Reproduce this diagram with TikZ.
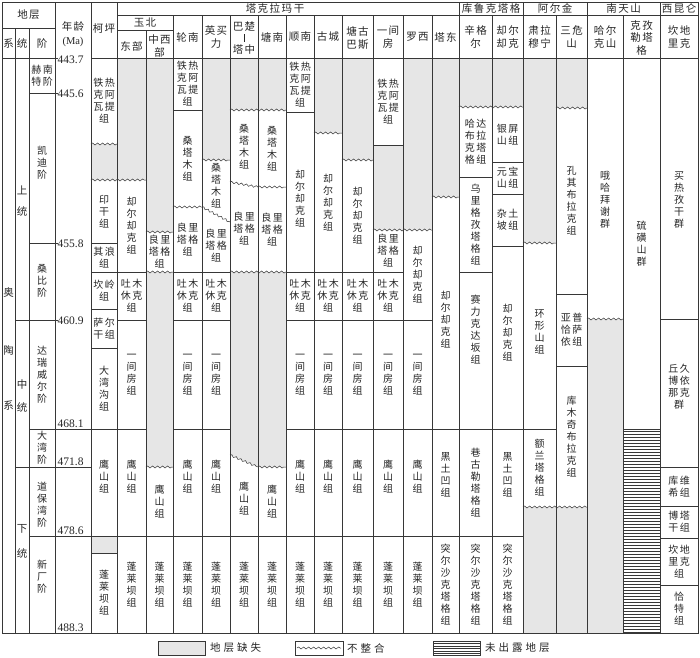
\documentclass[tikz,border=0pt]{standalone}
\usepackage{fontspec}
\setmainfont{Liberation Serif}
\newfontfamily\cjk{Noto Sans CJK SC}
\usetikzlibrary{decorations.pathmorphing}
\definecolor{gapc}{RGB}{230,230,230}
\definecolor{linec}{RGB}{55,55,55}
\newcommand\gq{\hspace{1.5pt}}
\newcommand\cellt[6]{\node[tx] (#1) at ({(#2+#3)/2},{(#4+#5)/2}) {#6};}
\newcommand\hln[3]{\draw[ln] (#1,#3) -- (#2,#3);}
\newcommand\wln[3]{\draw[wv] (#1,#3) -- (#2,#3);}
\newcommand\gpf[4]{\fill[gapc] (#1,#3) rectangle (#2,#4);}
\newcommand\TRK{铁\gq 热\\克\gq 阿\\瓦\gq 提\\组}
\newcommand\TMX{吐\gq 木\\休\gq 克\\组}
\newcommand\LLT{良\gq 里\\塔\gq 格\\组}
\newcommand\YJF{一\\间\\房\\组}
\newcommand\YSZ{鹰\\山\\组}
\newcommand\PLB{蓬\\莱\\坝\\组}
\newcommand\QEQ{却\\尔\\却\\克\\组}
\newcommand\STM{桑\\塔\\木\\组}
\newcommand\TES{突\\尔\\沙\\克\\塔\\格\\组}
\newcommand\HTA{黑\\土\\凹\\组}
\begin{document}
\begin{tikzpicture}[x=1pt,y=-1pt,
  ln/.style={draw=linec,line width=0.6pt},
  wv/.style={draw=linec,line width=0.5pt,decorate,decoration={snake,amplitude=1pt,segment length=5pt}},
  tx/.style={font=\cjk\fontsize{10}{12}\selectfont,align=center,inner sep=0pt,text=black!85},
  hd/.style={font=\cjk\fontsize{10.5}{12.5}\selectfont,align=center,inner sep=0pt,text=black!85},
  num/.style={font=\fontsize{11.5}{12}\selectfont,inner sep=0pt,text=black!85}]
\useasboundingbox (0,0) rectangle (700,657);
\fill[white] (0,0) rectangle (700,657);
% ---------- gaps ----------
\gpf{91}{117}{144}{180}\gpf{91}{117}{536}{553}
\gpf{117}{146}{58}{180}
\gpf{146}{173}{58}{232}\gpf{146}{173}{272}{467}
\gpf{202}{230}{58}{160}
\gpf{230}{258}{58}{110}
\fill[gapc] (230,272) -- (258,272) -- (258,467) -- (230,455) -- cycle;
\gpf{258}{286}{58}{110}\gpf{258}{286}{272}{467}
\gpf{314}{342}{58}{133}
\gpf{342}{373}{58}{160}
\gpf{373}{403}{145}{230}
\gpf{403}{432}{58}{230}
\gpf{432}{459}{58}{197}
\gpf{459}{492}{58}{107}
\gpf{492}{523}{58}{107}
\gpf{523}{556}{58}{243}\gpf{523}{556}{507}{633}
\gpf{556}{587}{58}{108}\gpf{556}{587}{507}{633}
\gpf{587}{623}{319}{633}
\foreach \yy in {431,434,...,632} \draw[linec,line width=0.4pt] (623,\yy) -- (660,\yy);
% ---------- frame & vertical lines ----------
\draw[ln,line width=0.9pt] (2,2) rectangle (698,633);
\foreach \xx in {15,29} \draw[ln] (\xx,28) -- (\xx,633);
\foreach \xx in {55,91,117,459,523,587,660} \draw[ln] (\xx,2) -- (\xx,633);
\draw[ln] (146,30) -- (146,633);
\foreach \xx in {173,202,230,258,286,314,342,373,403,432,492,556,623} \draw[ln] (\xx,15) -- (\xx,633);
% header horizontals
\hln{2}{55}{28}
\hln{117}{698}{15}
\hln{117}{173}{30}
\hln{2}{55}{58}\hln{91}{698}{58}
% ---------- header text ----------
\node[hd] (hdc) at (28.5,15) {地\gq 层};
\node[hd] (hxi) at (8.5,43) {系};
\node[hd] (htong) at (22,43) {统};
\node[hd] (hjie) at (42,43) {阶};
\node[hd] (hage) at (73,34) {年\gq 龄\\[1pt]{\rmfamily (Ma)}};
\node[hd] (hkp) at (104,28) {柯\gq 坪};
\node[hd] (htk) at (275,8.5) {塔\gq 克\gq 拉\gq 玛\gq 干};
\node[hd] (hkl) at (491,8.5) {库\gq 鲁\gq 克\gq 塔\gq 格};
\node[hd] (haj) at (555,8.5) {阿\gq 尔\gq 金};
\node[hd] (hnt) at (623.5,8.5) {南\gq 天\gq 山};
\node[hd] (hxk) at (679,8.5) {西\gq 昆\gq 仑};
\node[hd] (hyb) at (145,22.5) {玉\gq 北};
\node[hd] (hdb) at (131.5,46) {东\gq 部};
\node[hd] (hzx) at (159.5,46) {中\gq 西\\部};
\node[hd] (hln) at (187.5,37) {轮\gq 南};
\node[hd] (hym) at (216,37) {英\gq 买\\力};
\node[hd] (hbc) at (244,38) {巴\gq 楚\\[-1pt]\rule{0.5pt}{8pt}\\[-1pt]塔\gq 中};
\node[hd] (htn) at (272,37) {塘\gq 南};
\node[hd] (hsn) at (300,37) {顺\gq 南};
\node[hd] (hgc) at (328,37) {古\gq 城};
\node[hd] (htg) at (357.5,38) {塘\gq 古\\巴\gq 斯};
\node[hd] (hyj) at (388,37) {一\gq 间\\房};
\node[hd] (hlx) at (417.5,37) {罗\gq 西};
\node[hd] (htd) at (445.5,37) {塔\gq 东};
\node[hd] (hxg) at (475.5,37) {辛\gq 格\\尔};
\node[hd] (hqe) at (507.5,37) {却\gq 尔\\却\gq 克};
\node[hd] (hsl) at (539.5,37) {肃\gq 拉\\穆\gq 宁};
\node[hd] (hsw) at (571.5,37) {三\gq 危\\山};
\node[hd] (hhe) at (605,37) {哈\gq 尔\\克\gq 山};
\node[hd] (hkz) at (641.5,38) {克\gq 孜\\勒\gq 塔\\格};
\node[hd] (hkd) at (679,37) {坎\gq 地\\里\gq 克};
% ---------- chronostratigraphy ----------
\hln{29}{58}{93}\hln{29}{58}{243}\hln{15}{58}{320}
\hln{29}{91}{429}\hln{15}{91}{467}\hln{29}{91}{536}
\draw[ln] (55,58) -- (58,58);
\node[hd] (s1) at (8.5,292) {奥};
\node[hd] (s2) at (8.5,350) {陶};
\node[hd] (s3) at (8.5,405) {系};
\node[hd] (t1) at (22,190) {上};
\node[hd] (t2) at (22,211) {统};
\node[hd] (t3) at (22,384) {中};
\node[hd] (t4) at (22,407) {统};
\node[hd] (t5) at (22,529) {下};
\node[hd] (t6) at (22,553) {统};
\node[tx] (j1) at (42,76) {赫\gq 南\\特\gq 阶};
\node[tx] (j2) at (42,163) {凯\\迪\\阶};
\node[tx] (j3) at (42,281) {桑\\比\\阶};
\node[tx] (j4) at (42,375) {达\\瑞\\威\\尔\\阶};
\node[tx] (j5) at (42,448) {大\\湾\\阶};
\node[tx] (j6) at (42,505) {道\\保\\湾\\阶};
\node[tx] (j7) at (42,577) {新\\厂\\阶};
\node[num,anchor=west] (a1) at (57.5,60) {443.7};
\node[num,anchor=west] (a2) at (57.5,93.5) {445.6};
\node[num,anchor=west] (a3) at (57.5,243.5) {455.8};
\node[num,anchor=west] (a4) at (57.5,320.5) {460.9};
\node[num,anchor=south west] (a5) at (57.5,428) {468.1};
\node[num,anchor=south west] (a6) at (57.5,466) {471.8};
\node[num,anchor=south west] (a7) at (57.5,535) {478.6};
\node[num,anchor=south west] (a8) at (57.5,632) {488.3};
% ---------- Keping ----------
\wln{91}{117}{144}\wln{91}{146}{180}
\hln{91}{117}{243}\hln{91}{117}{272}\hln{91}{117}{309}\hln{91}{117}{348}
\hln{91}{117}{429}\hln{91}{117}{536}\hln{91}{117}{553}
\cellt{kp1}{91}{117}{58}{144}{\TRK}
\cellt{kp2}{91}{117}{180}{243}{印\\干\\组}
\cellt{kp3}{91}{117}{243}{272}{其\gq 浪\\组}
\cellt{kp4}{91}{117}{272}{309}{坎\gq 岭\\组}
\cellt{kp5}{91}{117}{309}{348}{萨\gq 尔\\干\gq 组}
\cellt{kp6}{91}{117}{348}{429}{大\\湾\\沟\\组}
\cellt{kp7}{91}{117}{429}{525}{\YSZ}
\cellt{kp8}{91}{117}{553}{633}{\PLB}
% ---------- Yubei east ----------
\hln{117}{146}{272}\hln{117}{146}{320}\hln{117}{146}{429}\hln{117}{146}{536}
\cellt{db1}{117}{146}{180}{272}{\QEQ}
\cellt{db2}{117}{146}{272}{320}{\TMX}
\cellt{db3}{117}{146}{320}{429}{\YJF}
\cellt{db4}{117}{146}{429}{525}{\YSZ}
\cellt{db5}{117}{146}{536}{633}{\PLB}
% ---------- Yubei middle-west ----------
\wln{146}{173}{232}\wln{146}{173}{272}\wln{146}{173}{467}\hln{146}{173}{536}
\cellt{zx1}{146}{173}{232}{272}{\LLT}
\cellt{zx2}{146}{173}{467}{536}{\YSZ}
\cellt{zx3}{146}{173}{536}{633}{\PLB}
% ---------- Lunnan ----------
\hln{173}{202}{110}\wln{173}{202}{207}\hln{173}{202}{272}\hln{173}{202}{320}\hln{173}{202}{429}\hln{173}{202}{536}
\cellt{ln1}{173}{202}{58}{110}{\TRK}
\cellt{ln2}{173}{202}{110}{207}{\STM}
\cellt{ln3}{173}{202}{207}{272}{\LLT}
\cellt{ln4}{173}{202}{272}{320}{\TMX}
\cellt{ln5}{173}{202}{320}{429}{\YJF}
\cellt{ln6}{173}{202}{429}{525}{\YSZ}
\cellt{ln7}{173}{202}{536}{633}{\PLB}
% ---------- Yingmaili ----------
\wln{202}{230}{160}\draw[wv] (202,207) -- (230,222);
\hln{202}{230}{272}\hln{202}{230}{320}\hln{202}{230}{429}\hln{202}{230}{536}
\cellt{ym1}{202}{230}{160}{212}{\STM}
\cellt{ym2}{202}{230}{220}{272}{\LLT}
\cellt{ym3}{202}{230}{272}{320}{\TMX}
\cellt{ym4}{202}{230}{320}{429}{\YJF}
\cellt{ym5}{202}{230}{429}{525}{\YSZ}
\cellt{ym6}{202}{230}{536}{633}{\PLB}
% ---------- Bachu-Tazhong ----------
\wln{230}{286}{110}\draw[wv] (230,182) -- (258,187);\wln{258}{286}{187}
\wln{230}{286}{272}\draw[wv] (230,455) -- (258,467);\wln{258}{286}{467}
\hln{230}{286}{536}
\cellt{bc1}{230}{258}{110}{184}{\STM}
\cellt{bc2}{230}{258}{185}{272}{\LLT}
\cellt{bc3}{230}{258}{461}{536}{\YSZ}
\cellt{bc4}{230}{258}{536}{633}{\PLB}
\cellt{tn1}{258}{286}{110}{187}{\STM}
\cellt{tn2}{258}{286}{187}{272}{\LLT}
\cellt{tn3}{258}{286}{467}{536}{\YSZ}
\cellt{tn4}{258}{286}{536}{633}{\PLB}
% ---------- Shunnan ----------
\hln{286}{314}{112}\hln{286}{373}{272}\hln{286}{373}{320}\hln{286}{459}{429}\hln{286}{459}{536}
\cellt{sn1}{286}{314}{58}{112}{\TRK}
\cellt{sn2}{286}{314}{125}{272}{\QEQ}
\cellt{sn3}{286}{314}{272}{320}{\TMX}
\cellt{sn4}{286}{314}{320}{429}{\YJF}
\cellt{sn5}{286}{314}{429}{525}{\YSZ}
\cellt{sn6}{286}{314}{536}{633}{\PLB}
% ---------- Gucheng ----------
\wln{314}{342}{133}
\cellt{gc1}{314}{342}{133}{272}{\QEQ}
\cellt{gc2}{314}{342}{272}{320}{\TMX}
\cellt{gc3}{314}{342}{320}{429}{\YJF}
\cellt{gc4}{314}{342}{429}{525}{\YSZ}
\cellt{gc5}{314}{342}{536}{633}{\PLB}
% ---------- Tanggubasi ----------
\wln{342}{373}{160}
\cellt{tg1}{342}{373}{160}{272}{\QEQ}
\cellt{tg2}{342}{373}{272}{320}{\TMX}
\cellt{tg3}{342}{373}{320}{429}{\YJF}
\cellt{tg4}{342}{373}{429}{525}{\YSZ}
\cellt{tg5}{342}{373}{536}{633}{\PLB}
% ---------- Yijianfang ----------
\hln{373}{403}{145}\wln{373}{432}{230}\hln{373}{403}{272}\hln{373}{432}{320}
\cellt{yj1}{373}{403}{58}{145}{\TRK}
\cellt{yj2}{373}{403}{230}{272}{\LLT}
\cellt{yj3}{373}{403}{272}{320}{\TMX}
\cellt{yj4}{373}{403}{320}{429}{\YJF}
\cellt{yj5}{373}{403}{429}{525}{\YSZ}
\cellt{yj6}{373}{403}{536}{633}{\PLB}
% ---------- Luoxi ----------
\cellt{lx1}{403}{432}{230}{320}{\QEQ}
\cellt{lx2}{403}{432}{320}{429}{\YJF}
\cellt{lx3}{403}{432}{429}{525}{\YSZ}
\cellt{lx4}{403}{432}{536}{633}{\PLB}
% ---------- Tadong ----------
\wln{432}{459}{197}
\cellt{td1}{432}{459}{210}{429}{\QEQ}
\cellt{td2}{432}{459}{429}{520}{\HTA}
\cellt{td3}{432}{459}{536}{633}{\TES}
% ---------- Xingeer ----------
\wln{459}{523}{107}\hln{459}{492}{177}\hln{459}{492}{272}\hln{459}{523}{429}\hln{459}{523}{536}
\cellt{xg1}{459}{492}{107}{177}{哈\gq 达\\布\gq 拉\\克\gq 塔\\格\gq 组}
\cellt{xg2}{459}{492}{177}{272}{乌\\里\\格\\孜\\塔\\格\\组}
\cellt{xg3}{459}{492}{272}{388}{赛\\力\\克\\达\\坂\\组}
\cellt{xg4}{459}{492}{429}{536}{巷\\古\\勒\\塔\\格\\组}
\cellt{xg5}{459}{492}{536}{633}{\TES}
% ---------- Queerqueke ----------
\hln{492}{523}{162}\hln{492}{523}{194}\hln{492}{523}{246}
\cellt{qk1}{492}{523}{107}{162}{银\gq 屏\\山\gq 组}
\cellt{qk2}{492}{523}{162}{194}{元\gq 宝\\山\gq 组}
\cellt{qk3}{492}{523}{194}{246}{杂\gq 土\\坡\gq 组}
\cellt{qk4}{492}{523}{246}{420}{\QEQ}
\cellt{qk5}{492}{523}{429}{520}{\HTA}
\cellt{qk6}{492}{523}{536}{633}{\TES}
% ---------- Sulamuning ----------
\wln{523}{556}{243}\hln{523}{556}{429}\wln{523}{587}{507}
\cellt{sl1}{523}{556}{243}{420}{环\\形\\山\\组}
\cellt{sl2}{523}{556}{429}{507}{额\\兰\\塔\\格\\组}
% ---------- Sanweishan ----------
\wln{556}{587}{108}\hln{556}{587}{294}\hln{556}{587}{366}
\cellt{sw1}{556}{587}{108}{294}{孔\\其\\布\\拉\\克\\组}
\cellt{sw2}{556}{587}{294}{366}{亚\gq 普\\恰\gq 萨\\依\gq 组}
\cellt{sw3}{556}{587}{366}{507}{库\\木\\奇\\布\\拉\\克\\组}
% ---------- Haerkeshan ----------
\wln{587}{623}{319}
\cellt{he1}{587}{623}{80}{319}{哦\\哈\\拜\\谢\\群}
% ---------- Kezilitage ----------
\hln{623}{660}{429}
\cellt{kz1}{623}{660}{58}{429}{硫\\磺\\山\\群}
% ---------- Kandilike ----------
\hln{660}{698}{319}\hln{660}{698}{467}\hln{660}{698}{506}\hln{660}{698}{538}\hln{660}{698}{585}
\cellt{kd1}{660}{698}{80}{319}{买\\热\\孜\\干\\群}
\cellt{kd2}{660}{698}{319}{455}{丘\gq 久\\博\gq 依\\那\gq 克\\群}
\cellt{kd3}{660}{698}{467}{506}{库\gq 维\\希\gq 组}
\cellt{kd4}{660}{698}{506}{538}{博\gq 塔\\干\gq 组}
\cellt{kd5}{660}{698}{538}{585}{坎\gq 地\\里\gq 克\\组}
\cellt{kd6}{660}{698}{585}{633}{恰\\特\\组}
% ---------- legend ----------
\draw[ln,fill=gapc] (158,641) rectangle (205,655);
\node[hd,anchor=west] (lg1) at (210,648) {地\hspace{3pt}层\hspace{3pt}缺\hspace{3pt}失};
\draw[ln] (295,641) rectangle (343,655);
\draw[wv] (297,648) -- (341,648);
\node[hd,anchor=west] (lg2) at (347,648) {不\hspace{3pt}整\hspace{3pt}合};
\draw[ln] (433,641) rectangle (480,655);
\foreach \yy in {643.5,646,...,653.5} \draw[linec,line width=0.4pt] (433,\yy) -- (480,\yy);
\node[hd,anchor=west] (lg3) at (485,648) {未\hspace{3pt}出\hspace{3pt}露\hspace{3pt}地\hspace{3pt}层};
\end{tikzpicture}
\end{document}
